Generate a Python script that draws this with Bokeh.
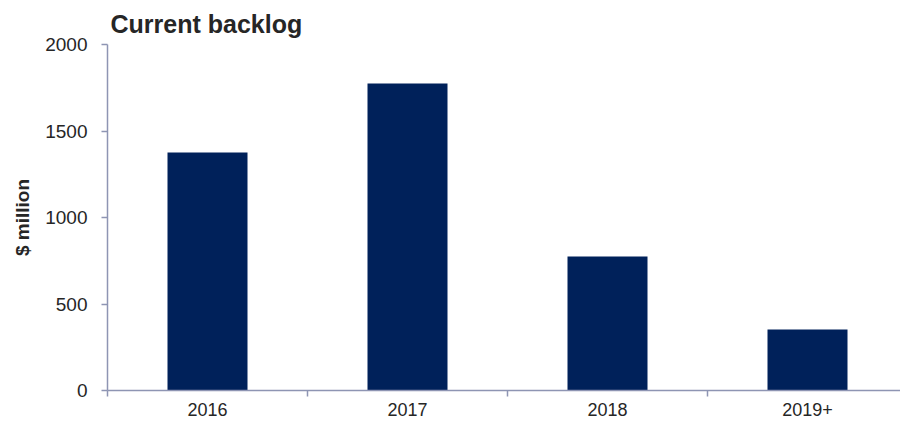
from bokeh.plotting import figure
from bokeh.models import Range1d, FixedTicker, ColumnDataSource
from bokeh.embed import file_html
from bokeh.resources import INLINE

categories = ["2016", "2017", "2018", "2019+"]
backlog = [1376, 1775, 775, 353]
y_ticks = [0, 500, 1000, 1500, 2000]

centers = [i + 0.5 for i in range(len(categories))]
bounds = list(range(len(categories) + 1))
src = ColumnDataSource(dict(x=centers, top=backlog, cat=categories))

FONT = "Liberation Sans"
TXT = "#262626"
AX = "#8E95B3"

p = figure(width=900, height=425, output_backend="svg", toolbar_location=None,
           x_range=Range1d(0, 3.965), y_range=Range1d(0, 2000),
           min_border_left=107, min_border_right=0, min_border_top=44, min_border_bottom=35)
p.outline_line_color = None
p.grid.visible = False

p.vbar(x="x", top="top", width=0.4, source=src, fill_color="#00215A", line_color=None)

p.title.text = "Current backlog"
p.title.text_font = FONT
p.title.text_font_size = "25px"
p.title.text_font_style = "bold"
p.title.text_color = TXT
p.title.align = "left"
p.title.offset = 3
p.title.standoff = 13

xa = p.xaxis[0]
xa.ticker = FixedTicker(ticks=centers, minor_ticks=bounds)
xa.major_label_overrides = {c: lab for c, lab in zip(centers, categories)}
xa.major_tick_line_color = None
xa.minor_tick_in = 0
xa.minor_tick_out = 6
xa.minor_tick_line_color = AX
xa.axis_line_color = AX
xa.axis_line_width = 1.5
xa.minor_tick_line_width = 1.5
xa.major_label_text_font = FONT
xa.major_label_text_font_size = "18px"
xa.major_label_text_color = TXT
xa.major_label_standoff = 6

ya = p.yaxis[0]
ya.ticker = FixedTicker(ticks=y_ticks, minor_ticks=[])
ya.axis_line_color = AX
ya.axis_line_width = 1.5
ya.major_tick_line_color = AX
ya.major_tick_line_width = 1.5
ya.major_tick_in = 0
ya.major_tick_out = 6
ya.minor_tick_line_color = None
ya.major_label_text_font = FONT
ya.major_label_text_font_size = "19px"
ya.major_label_text_color = TXT
ya.major_label_standoff = 14
ya.axis_label = "$ million"
ya.axis_label_text_font = FONT
ya.axis_label_text_font_size = "19px"
ya.axis_label_text_font_style = "bold"
ya.axis_label_text_color = TXT
ya.axis_label_standoff = 9

open("out.html", "w").write(file_html(p, INLINE))
